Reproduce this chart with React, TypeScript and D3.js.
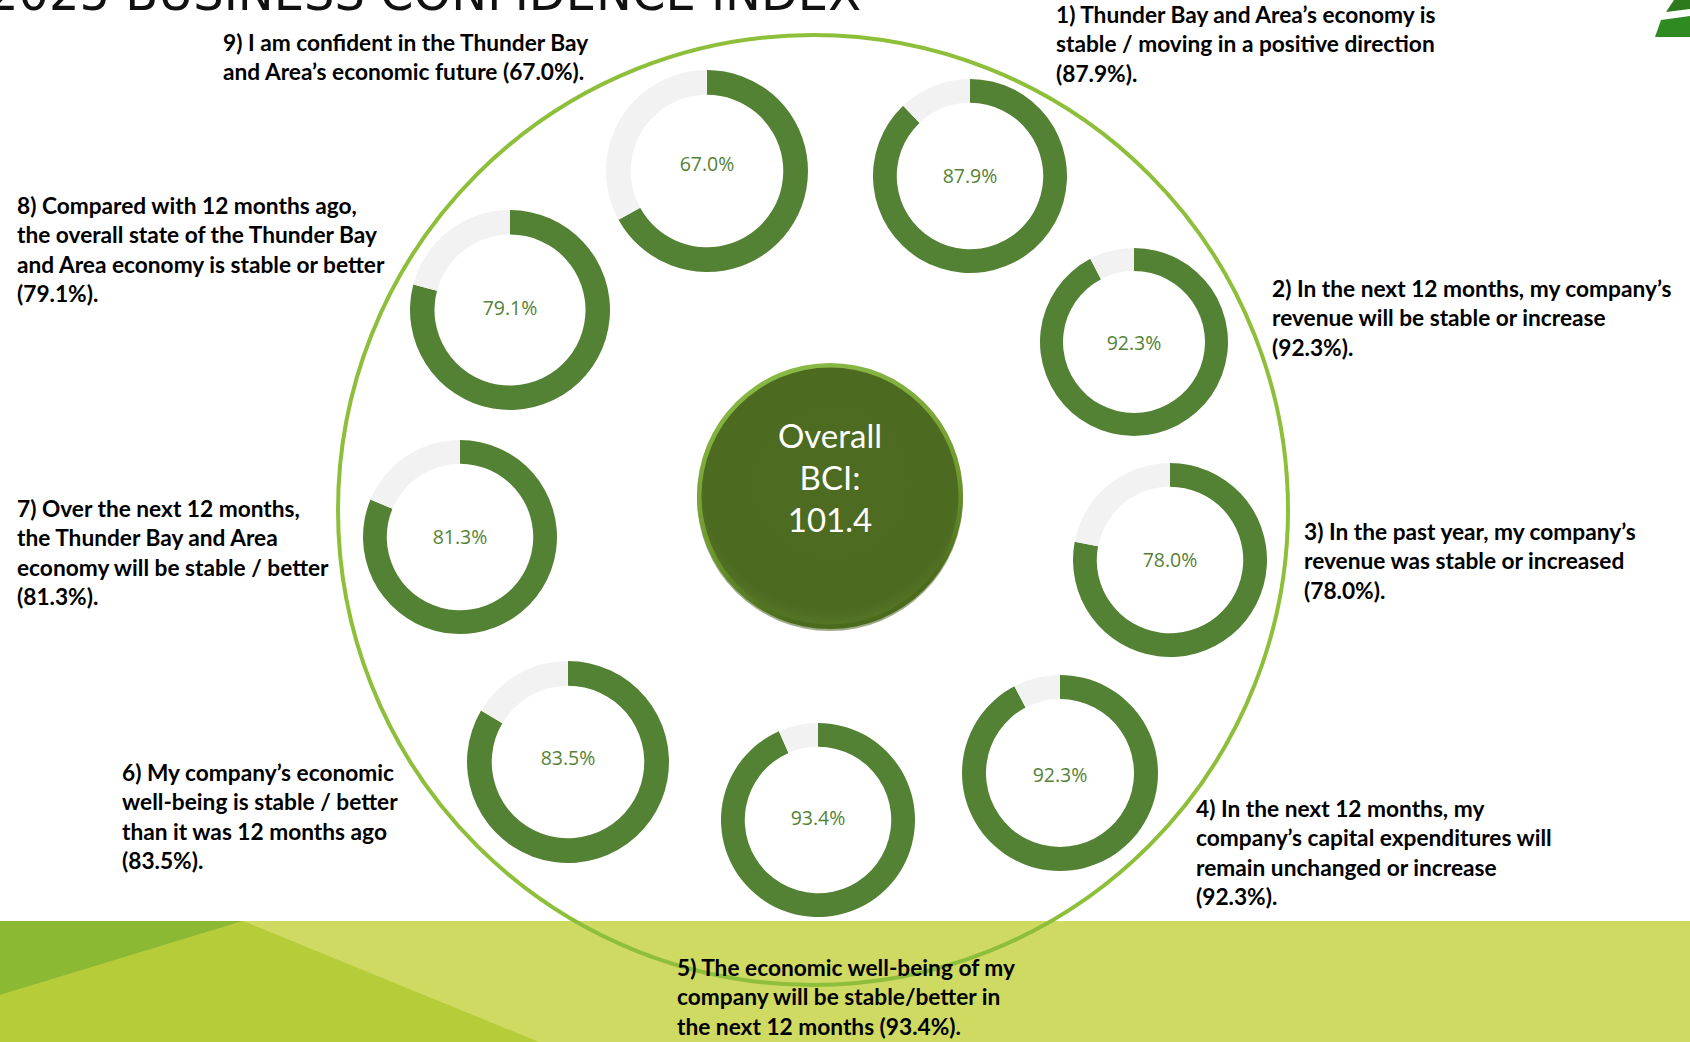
import React from "react";
import * as d3 from "d3";

// ---- data ----
const values: number[] = [87.9, 92.3, 78.0, 92.3, 93.4, 83.5, 81.3, 79.1, 67.0];
const labelLines: string[][] = [
  ["1) Thunder Bay and Area’s economy is", "stable / moving in a positive direction", "(87.9%)."],
  ["2) In the next 12 months, my company’s", "revenue will be stable or increase", "(92.3%)."],
  ["3) In the past year, my company’s", "revenue was stable or increased", "(78.0%)."],
  ["4) In the next 12 months, my", "company’s capital expenditures will", "remain unchanged or increase", "(92.3%)."],
  ["5) The economic well-being of my", "company will be stable/better in", "the next 12 months (93.4%)."],
  ["6) My company’s economic", "well-being is stable / better", "than it was 12 months ago", "(83.5%)."],
  ["7) Over the next 12 months,", "the Thunder Bay and Area", "economy will be stable / better", "(81.3%)."],
  ["8) Compared with 12 months ago,", "the overall state of the Thunder Bay", "and Area economy is stable or better", "(79.1%)."],
  ["9) I am confident in the Thunder Bay", "and Area’s economic future (67.0%)."],
];
const overallLines: string[] = ["Overall", "BCI:", "101.4"];
const titleText = "2025 BUSINESS CONFIDENCE INDEX";

// ---- layout ----
const W = 1690;
const H = 1042;
const donutLayout = [
  { cx: 970, cy: 176, r: 97, ly: 0 },
  { cx: 1134, cy: 342, r: 94, ly: 1 },
  { cx: 1170, cy: 560, r: 97, ly: 0 },
  { cx: 1060, cy: 773, r: 98, ly: 2 },
  { cx: 818, cy: 820, r: 97, ly: -2 },
  { cx: 568, cy: 762, r: 101, ly: -4 },
  { cx: 460, cy: 537, r: 97, ly: 0 },
  { cx: 510, cy: 310, r: 100, ly: -2 },
  { cx: 707, cy: 171, r: 101, ly: -7 },
];
const labelLayout = [
  { x: 1056, y: 15 },
  { x: 1272, y: 289 },
  { x: 1304, y: 532 },
  { x: 1196, y: 809 },
  { x: 677, y: 968 },
  { x: 122, y: 773 },
  { x: 17, y: 509 },
  { x: 17, y: 206 },
  { x: 223, y: 43 },
];
const LINE_H = 29.3;
const GREEN = "#548235";
const GREY = "#f2f2f2";
const LABEL_FONT = "'Lato', sans-serif";

export default function App() {
  const pie = d3
    .pie<number>()
    .sort(null)
    .value((d) => d);
  const fmt = d3.format(".1f");

  return (
    <svg
      width={W}
      height={H}
      style={{ position: "absolute", left: 0, top: 0, background: "#fff" }}
    >
      <defs>
        <linearGradient id="rim" x1="0" y1="0" x2="0.3" y2="1">
          <stop offset="0%" stopColor="#8fc04a" />
          <stop offset="65%" stopColor="#6f9a2e" />
          <stop offset="100%" stopColor="#4a6a1c" />
        </linearGradient>
        <radialGradient id="core" cx="50%" cy="45%" r="55%">
          <stop offset="0%" stopColor="#4e6b22" />
          <stop offset="90%" stopColor="#4d6a21" />
          <stop offset="100%" stopColor="#557526" />
        </radialGradient>
      </defs>
      <rect x={0} y={0} width={W} height={H} fill="#ffffff" />

      {/* bottom band */}
      <rect x={0} y={921} width={W} height={H - 921} fill="#cfda62" />
      <polygon points="243,921 539,1042 0,1042 0,995" fill="#b6cc39" />
      <polygon points="0,921 243,921 0,995" fill="#8cb933" />

      {/* big outline circle */}
      <circle cx={813} cy={510} r={475} fill="none" stroke="#8dbf3a" strokeWidth={4} />

      {/* donuts */}
      {values.map((v, i) => {
        const L = donutLayout[i];
        const arc = d3
          .arc<d3.PieArcDatum<number>>()
          .innerRadius(L.r * 0.755)
          .outerRadius(L.r);
        const arcs = pie([v, 100 - v]);
        return (
          <g key={i} transform={`translate(${L.cx},${L.cy})`}>
            {arcs.map((a, j) => (
              <path key={j} d={arc(a) || ""} fill={j === 0 ? GREEN : GREY} />
            ))}
            <text
              x={0}
              y={L.ly}
              dy="0.35em"
              textAnchor="middle"
              fontFamily="'Open Sans', 'Noto Sans', sans-serif"
              fontSize={19.5}
              fill={GREEN}
            >
              {fmt(v) + "%"}
            </text>
          </g>
        );
      })}

      {/* center circle */}
      <circle cx={830} cy={498} r={133} fill="#3d5716" opacity={0.5} />
      <circle cx={830} cy={496} r={133} fill="url(#rim)" />
      <circle cx={830} cy={496} r={128.5} fill="url(#core)" />
      {overallLines.map((t, i) => (
        <text
          key={i}
          x={830}
          y={436 + i * 42}
          dy="0.35em"
          textAnchor="middle"
          fontFamily={LABEL_FONT}
          fontSize={33}
          fill="#ffffff"
        >
          {t}
        </text>
      ))}

      {/* labels */}
      {labelLines.map((lines, i) => (
        <g key={i}>
          {lines.map((t, j) => (
            <text
              key={j}
              x={labelLayout[i].x}
              y={labelLayout[i].y + j * LINE_H}
              dy="0.35em"
              fontFamily={LABEL_FONT}
              fontWeight={700}
              fontSize={22.7}
              fill="#000"
            >
              {t}
            </text>
          ))}
        </g>
      ))}

      {/* title (cut off at top, as in the reference) */}
      <text
        x={-12}
        y={10}
        fontFamily="'DejaVu Sans', sans-serif"
        fontWeight={400}
        fontSize={50}
        textLength={873}
        lengthAdjust="spacingAndGlyphs"
        fill="#111"
      >
        {titleText}
      </text>

      {/* logo fragment */}
      <polygon points="1674,0 1690,0 1690,9 1666,12" fill="#2d7a1c" />
      <polygon points="1661,20 1690,16 1690,37 1655,37" fill="#2f8a22" />
    </svg>
  );
}
